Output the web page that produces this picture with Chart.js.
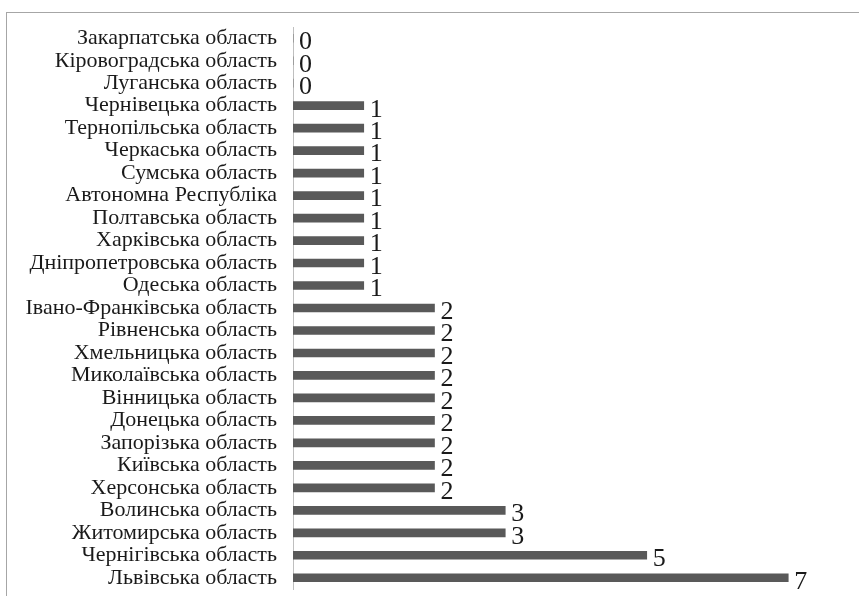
<!DOCTYPE html>
<html>
<head>
<meta charset="utf-8">
<script src="https://cdn.jsdelivr.net/npm/chart.js@4"></script>
<style>
html,body{margin:0;padding:0;background:#fff;overflow:hidden;}
#wrap{position:relative;width:859px;height:596px;}
#frame{position:absolute;left:6px;top:12px;width:900px;height:700px;border:1px solid #a6a6a6;box-sizing:border-box;}
canvas{position:absolute;left:0;top:0;}
</style>
</head>
<body>
<div id="wrap">
<div id="frame"></div>
<canvas id="c" width="859" height="596"></canvas>
</div>
<script>
const categories = [
  "Закарпатська область",
  "Кіровоградська область",
  "Луганська область",
  "Чернівецька область",
  "Тернопільська область",
  "Черкаська область",
  "Сумська область",
  "Автономна Республіка",
  "Полтавська область",
  "Харківська область",
  "Дніпропетровська область",
  "Одеська область",
  "Івано-Франківська область",
  "Рівненська область",
  "Хмельницька область",
  "Миколаївська область",
  "Вінницька область",
  "Донецька область",
  "Запорізька область",
  "Київська область",
  "Херсонська область",
  "Волинська область",
  "Житомирська область",
  "Чернігівська область",
  "Львівська область"
];
const values = [0,0,0,1,1,1,1,1,1,1,1,1,2,2,2,2,2,2,2,2,2,3,3,5,7];

const valueLabels = {
  id: 'valueLabels',
  afterDatasetsDraw(chart) {
    const ctx = chart.ctx;
    const meta = chart.getDatasetMeta(0);
    ctx.save();
    ctx.font = '26px "Liberation Serif", "Times New Roman", serif';
    ctx.fillStyle = '#1a1a1a';
    ctx.textAlign = 'left';
    ctx.textBaseline = 'middle';
    meta.data.forEach((bar, i) => {
      ctx.fillText(String(values[i]), bar.x + 6, bar.y + 4);
    });
    ctx.restore();
  }
};

new Chart(document.getElementById('c'), {
  type: 'bar',
  data: {
    labels: categories,
    datasets: [{
      data: values,
      backgroundColor: '#595959',
      borderWidth: 0,
      barThickness: 8
    }]
  },
  options: {
    indexAxis: 'y',
    responsive: false,
    animation: false,
    devicePixelRatio: 1,
    layout: { padding: { top: 27, bottom: 7, left: 0, right: 0 } },
    plugins: { legend: { display: false }, tooltip: { enabled: false } },
    scales: {
      x: { display: false, min: 0, max: 8 },
      y: {
        afterFit(scale) { scale.width = 293; scale.paddingTop = 0; scale.paddingBottom = 0; },
        grid: { display: false, drawTicks: false },
        border: { display: true, color: '#bfbfbf', width: 1 },
        ticks: {
          autoSkip: false,
          padding: 16,
          color: '#1a1a1a',
          font: { family: '"Liberation Serif", "Times New Roman", serif', size: 22 }
        }
      }
    }
  },
  plugins: [valueLabels]
});
</script>
</body>
</html>
